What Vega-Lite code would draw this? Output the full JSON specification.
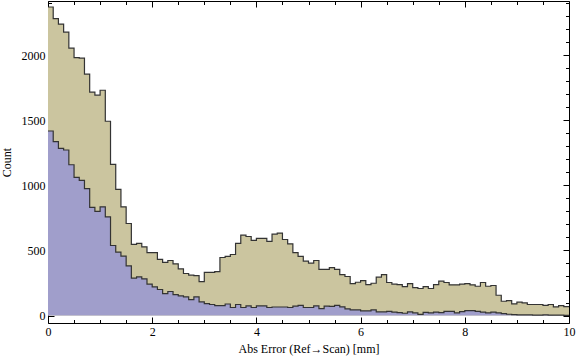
{
  "$schema": "https://vega.github.io/schema/vega-lite/v6.json",
  "width": 521,
  "height": 322,
  "autosize": {"type": "none"},
  "padding": {"left": 48, "top": 1, "right": 7, "bottom": 39},
  "background": "white",
  "config": {
    "view": {"stroke": "#000000", "strokeWidth": 1},
    "font": "Liberation Serif",
    "axis": {
      "labelFont": "Liberation Serif", "titleFont": "Liberation Serif",
      "labelFontSize": 12, "titleFontSize": 12, "titleFontWeight": "normal",
      "labelColor": "#000000", "titleColor": "#000000", "tickColor": "#000000",
      "domain": false, "grid": false, "labelFlush": false, "labelOverlap": false
    }
  },
  "data": {"values": [
    {"x": 0.0, "total": 2369, "subset": 1417},
    {"x": 0.1, "total": 2279, "subset": 1335},
    {"x": 0.2, "total": 2238, "subset": 1284},
    {"x": 0.3, "total": 2176, "subset": 1271},
    {"x": 0.4, "total": 2053, "subset": 1158},
    {"x": 0.5, "total": 1981, "subset": 1061},
    {"x": 0.6, "total": 1976, "subset": 1038},
    {"x": 0.7, "total": 1853, "subset": 974},
    {"x": 0.8, "total": 1715, "subset": 830},
    {"x": 0.9, "total": 1692, "subset": 800},
    {"x": 1.0, "total": 1730, "subset": 835},
    {"x": 1.1, "total": 1492, "subset": 758},
    {"x": 1.2, "total": 1161, "subset": 538},
    {"x": 1.3, "total": 969, "subset": 487},
    {"x": 1.4, "total": 835, "subset": 456},
    {"x": 1.5, "total": 707, "subset": 381},
    {"x": 1.6, "total": 546, "subset": 287},
    {"x": 1.7, "total": 554, "subset": 297},
    {"x": 1.8, "total": 528, "subset": 282},
    {"x": 1.9, "total": 484, "subset": 241},
    {"x": 2.0, "total": 484, "subset": 220},
    {"x": 2.1, "total": 431, "subset": 200},
    {"x": 2.2, "total": 408, "subset": 169},
    {"x": 2.3, "total": 423, "subset": 185},
    {"x": 2.4, "total": 397, "subset": 161},
    {"x": 2.5, "total": 358, "subset": 151},
    {"x": 2.6, "total": 323, "subset": 143},
    {"x": 2.7, "total": 310, "subset": 123},
    {"x": 2.8, "total": 307, "subset": 143},
    {"x": 2.9, "total": 261, "subset": 105},
    {"x": 3.0, "total": 331, "subset": 92},
    {"x": 3.1, "total": 331, "subset": 85},
    {"x": 3.2, "total": 338, "subset": 77},
    {"x": 3.3, "total": 446, "subset": 77},
    {"x": 3.4, "total": 454, "subset": 89},
    {"x": 3.5, "total": 469, "subset": 62},
    {"x": 3.6, "total": 554, "subset": 85},
    {"x": 3.7, "total": 617, "subset": 62},
    {"x": 3.8, "total": 607, "subset": 74},
    {"x": 3.9, "total": 577, "subset": 62},
    {"x": 4.0, "total": 592, "subset": 74},
    {"x": 4.1, "total": 592, "subset": 74},
    {"x": 4.2, "total": 569, "subset": 62},
    {"x": 4.3, "total": 625, "subset": 66},
    {"x": 4.4, "total": 633, "subset": 66},
    {"x": 4.5, "total": 584, "subset": 66},
    {"x": 4.6, "total": 551, "subset": 62},
    {"x": 4.7, "total": 484, "subset": 72},
    {"x": 4.8, "total": 454, "subset": 79},
    {"x": 4.9, "total": 418, "subset": 62},
    {"x": 5.0, "total": 402, "subset": 62},
    {"x": 5.1, "total": 423, "subset": 74},
    {"x": 5.2, "total": 354, "subset": 54},
    {"x": 5.3, "total": 354, "subset": 72},
    {"x": 5.4, "total": 368, "subset": 70},
    {"x": 5.5, "total": 354, "subset": 78},
    {"x": 5.6, "total": 315, "subset": 67},
    {"x": 5.7, "total": 300, "subset": 52},
    {"x": 5.8, "total": 246, "subset": 44},
    {"x": 5.9, "total": 256, "subset": 43},
    {"x": 6.0, "total": 269, "subset": 36},
    {"x": 6.1, "total": 238, "subset": 36},
    {"x": 6.2, "total": 248, "subset": 43},
    {"x": 6.3, "total": 295, "subset": 28},
    {"x": 6.4, "total": 315, "subset": 28},
    {"x": 6.5, "total": 254, "subset": 33},
    {"x": 6.6, "total": 241, "subset": 26},
    {"x": 6.7, "total": 238, "subset": 22},
    {"x": 6.8, "total": 223, "subset": 18},
    {"x": 6.9, "total": 246, "subset": 28},
    {"x": 7.0, "total": 215, "subset": 20},
    {"x": 7.1, "total": 208, "subset": 9},
    {"x": 7.2, "total": 223, "subset": 25},
    {"x": 7.3, "total": 208, "subset": 21},
    {"x": 7.4, "total": 238, "subset": 27},
    {"x": 7.5, "total": 264, "subset": 22},
    {"x": 7.6, "total": 254, "subset": 33},
    {"x": 7.7, "total": 236, "subset": 33},
    {"x": 7.8, "total": 236, "subset": 20},
    {"x": 7.9, "total": 241, "subset": 31},
    {"x": 8.0, "total": 246, "subset": 38},
    {"x": 8.1, "total": 236, "subset": 38},
    {"x": 8.2, "total": 225, "subset": 33},
    {"x": 8.3, "total": 254, "subset": 26},
    {"x": 8.4, "total": 225, "subset": 20},
    {"x": 8.5, "total": 231, "subset": 26},
    {"x": 8.6, "total": 156, "subset": 20},
    {"x": 8.7, "total": 110, "subset": 15},
    {"x": 8.8, "total": 115, "subset": 10},
    {"x": 8.9, "total": 90, "subset": 8},
    {"x": 9.0, "total": 103, "subset": 5},
    {"x": 9.1, "total": 97, "subset": 5},
    {"x": 9.2, "total": 85, "subset": 5},
    {"x": 9.3, "total": 85, "subset": 4},
    {"x": 9.4, "total": 85, "subset": 4},
    {"x": 9.5, "total": 79, "subset": 6},
    {"x": 9.6, "total": 85, "subset": 4},
    {"x": 9.7, "total": 67, "subset": 3},
    {"x": 9.8, "total": 77, "subset": 3},
    {"x": 9.9, "total": 69, "subset": 2},
    {"x": 10.0, "total": 69, "subset": 2}
  ]},
  "layer": [
    {
      "mark": {"type": "area", "interpolate": "step-after", "color": "#CBC59F", "opacity": 1},
      "encoding": {
        "x": {"field": "x", "type": "quantitative",
              "scale": {"domain": [0, 10], "nice": false, "zero": false},
              "axis": {"orient": "bottom", "values": [0, 2, 4, 6, 8, 10], "tickSize": -6, "labelPadding": 9, "format": "d",
                       "title": "Abs Error (Ref→Scan) [mm]", "titlePadding": 6}},
        "y": {"field": "total", "type": "quantitative",
              "scale": {"domain": [-57, 2415], "nice": false, "zero": false},
              "axis": {"orient": "left", "values": [0, 500, 1000, 1500, 2000], "tickSize": -6, "labelPadding": 9, "format": "d",
                       "title": "Count", "titlePadding": 8}},
        "y2": {"datum": 0}
      }
    },
    {
      "mark": {"type": "area", "interpolate": "step-after", "color": "#A09ECB", "opacity": 1},
      "encoding": {
        "x": {"field": "x", "type": "quantitative",
              "scale": {"domain": [0, 10], "nice": false, "zero": false},
              "axis": {"orient": "bottom", "values": [0.5, 1, 1.5, 2.5, 3, 3.5, 4.5, 5, 5.5, 6.5, 7, 7.5, 8.5, 9, 9.5], "tickSize": -3.5, "labels": false, "title": null}},
        "y": {"field": "subset", "type": "quantitative",
              "scale": {"domain": [-57, 2415], "nice": false, "zero": false},
              "axis": {"orient": "left", "values": [100, 200, 300, 400, 600, 700, 800, 900, 1100, 1200, 1300, 1400, 1600, 1700, 1800, 1900, 2100, 2200, 2300, 2400], "tickSize": -3.5, "labels": false, "title": null}},
        "y2": {"datum": 0}
      }
    },
    {
      "mark": {"type": "line", "interpolate": "step-after", "color": "#333333", "strokeWidth": 1.2},
      "encoding": {
        "x": {"field": "x", "type": "quantitative",
              "scale": {"domain": [0, 10], "nice": false, "zero": false},
              "axis": {"orient": "top", "values": [0, 2, 4, 6, 8, 10], "tickSize": -6, "labels": false, "title": null}},
        "y": {"field": "total", "type": "quantitative",
              "scale": {"domain": [-57, 2415], "nice": false, "zero": false},
              "axis": {"orient": "right", "values": [0, 500, 1000, 1500, 2000], "tickSize": -6, "labels": false, "title": null}}
      }
    },
    {
      "mark": {"type": "line", "interpolate": "step-after", "color": "#333333", "strokeWidth": 1.2},
      "encoding": {
        "x": {"field": "x", "type": "quantitative",
              "scale": {"domain": [0, 10], "nice": false, "zero": false},
              "axis": {"orient": "top", "values": [0.5, 1, 1.5, 2.5, 3, 3.5, 4.5, 5, 5.5, 6.5, 7, 7.5, 8.5, 9, 9.5], "tickSize": -3.5, "labels": false, "title": null}},
        "y": {"field": "subset", "type": "quantitative",
              "scale": {"domain": [-57, 2415], "nice": false, "zero": false},
              "axis": {"orient": "right", "values": [100, 200, 300, 400, 600, 700, 800, 900, 1100, 1200, 1300, 1400, 1600, 1700, 1800, 1900, 2100, 2200, 2300, 2400], "tickSize": -3.5, "labels": false, "title": null}}
      }
    }
  ],
  "resolve": {"axis": {"x": "independent", "y": "independent"}}
}
